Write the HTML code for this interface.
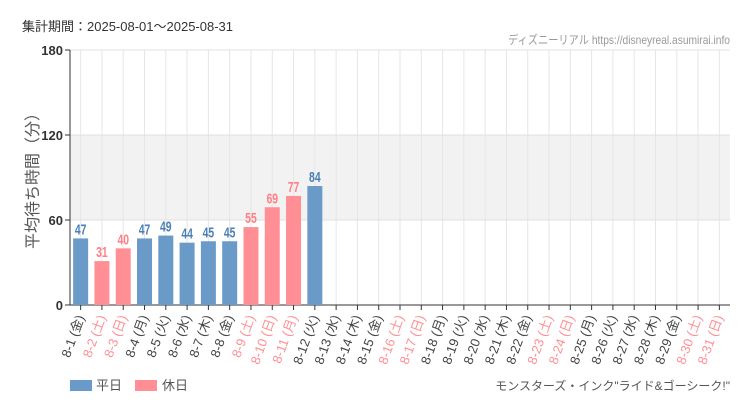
<!DOCTYPE html>
<html><head><meta charset="utf-8"><style>
body{margin:0;background:#fff;}
svg{display:block;font-family:"Liberation Sans","Noto Sans CJK JP",sans-serif;}
</style></head><body>
<svg id="chart" width="750" height="410">
<text x="22" y="31" font-size="13" fill="#333">集計期間：2025-08-01～2025-08-31</text>
<text x="508" y="44" font-size="12" fill="#999" textLength="222" lengthAdjust="spacingAndGlyphs">ディズニーリアル https://disneyreal.asumirai.info</text>
<text transform="translate(38,177) rotate(-90)" font-size="16" fill="#555" text-anchor="middle">平均待ち時間（分）</text>
<g id="plot"></g>
<rect x="70" y="380" width="22" height="11" fill="#6a9ac7"/>
<text x="96" y="390" font-size="13" fill="#555">平日</text>
<rect x="135" y="380" width="22" height="11" fill="#ff8f94"/>
<text x="162" y="390" font-size="13" fill="#555">休日</text>
<text x="730" y="390" font-size="12" fill="#555" text-anchor="end">モンスターズ・インク"ライド&amp;ゴーシーク!"</text>
</svg>
<script>
const days=['8-1 (金)','8-2 (土)','8-3 (日)','8-4 (月)','8-5 (火)','8-6 (水)','8-7 (木)','8-8 (金)','8-9 (土)','8-10 (日)','8-11 (月)','8-12 (火)','8-13 (水)','8-14 (木)','8-15 (金)','8-16 (土)','8-17 (日)','8-18 (月)','8-19 (火)','8-20 (水)','8-21 (木)','8-22 (金)','8-23 (土)','8-24 (日)','8-25 (月)','8-26 (火)','8-27 (水)','8-28 (木)','8-29 (金)','8-30 (土)','8-31 (日)'];
const holiday=[0,1,1,0,0,0,0,0,1,1,1,0,0,0,0,1,1,0,0,0,0,0,1,1,0,0,0,0,0,1,1];
const values=[47,31,40,47,49,44,45,45,55,69,77,84,null,null,null,null,null,null,null,null,null,null,null,null,null,null,null,null,null,null,null];
const yTicks=[0,60,120,180];
const NS='http://www.w3.org/2000/svg';
const g=document.getElementById('plot');
const X0=70,X1=730,Y0=305,Y1=50,YMAX=180;
const slot=(X1-X0)/days.length;
const xc=i=>X0+slot*(i+0.5);
const y=v=>Y0-(v/YMAX)*(Y0-Y1);
function mk(t,a){const e=document.createElementNS(NS,t);for(const k in a)e.setAttribute(k,a[k]);g.appendChild(e);return e;}
let band=mk('rect',{x:X0,y:y(120),width:X1-X0,height:y(60)-y(120),fill:'#f2f2f2'});


days.forEach((d,i)=>{let l=mk('line',{x1:xc(i),x2:xc(i),y1:Y1,y2:Y0,stroke:'#e6e6e6'});

});
yTicks.forEach(t=>{let l=mk('line',{x1:X0,x2:X1,y1:y(t),y2:y(t),stroke:t==0?'#333':'#e0e0e0'});


let tk=mk('line',{x1:X0-5,x2:X0,y1:y(t),y2:y(t),stroke:'#333'});


let tx=mk('text',{x:X0-7,y:y(t)+5,'text-anchor':'end','font-size':13,'font-weight':'bold',fill:'#333'});tx.textContent=t;

});
let ax=mk('line',{x1:X0,x2:X0,y1:Y1,y2:Y0,stroke:'#333'});


days.forEach((d,i)=>{
 const col=holiday[i]?'#ff8f94':'#6a9ac7', tcol=holiday[i]?'#ff7f86':'#4a7fb5';
 const v=values[i];
 if(v!=null){
  let b=mk('rect',{x:xc(i)-7.5,y:y(v),width:15,height:Y0-y(v),fill:col});
  
  
  let vt=mk('text',{transform:`translate(${xc(i)},${y(v)-4}) scale(0.8,1.1)`,'text-anchor':'middle','font-size':13,'font-weight':'bold',fill:tcol});vt.textContent=v;
  
  
 }
 let tk=mk('line',{x1:xc(i),x2:xc(i),y1:Y0,y2:Y0+5,stroke:'#333'});
 
 
 let lt=mk('text',{transform:`translate(${xc(i)+4},${Y0+12}) rotate(-70)`,'text-anchor':'end','font-size':13,fill:holiday[i]?'#ff8f94':'#444'});lt.textContent=d;
 
 
});
</script>
</body></html>
